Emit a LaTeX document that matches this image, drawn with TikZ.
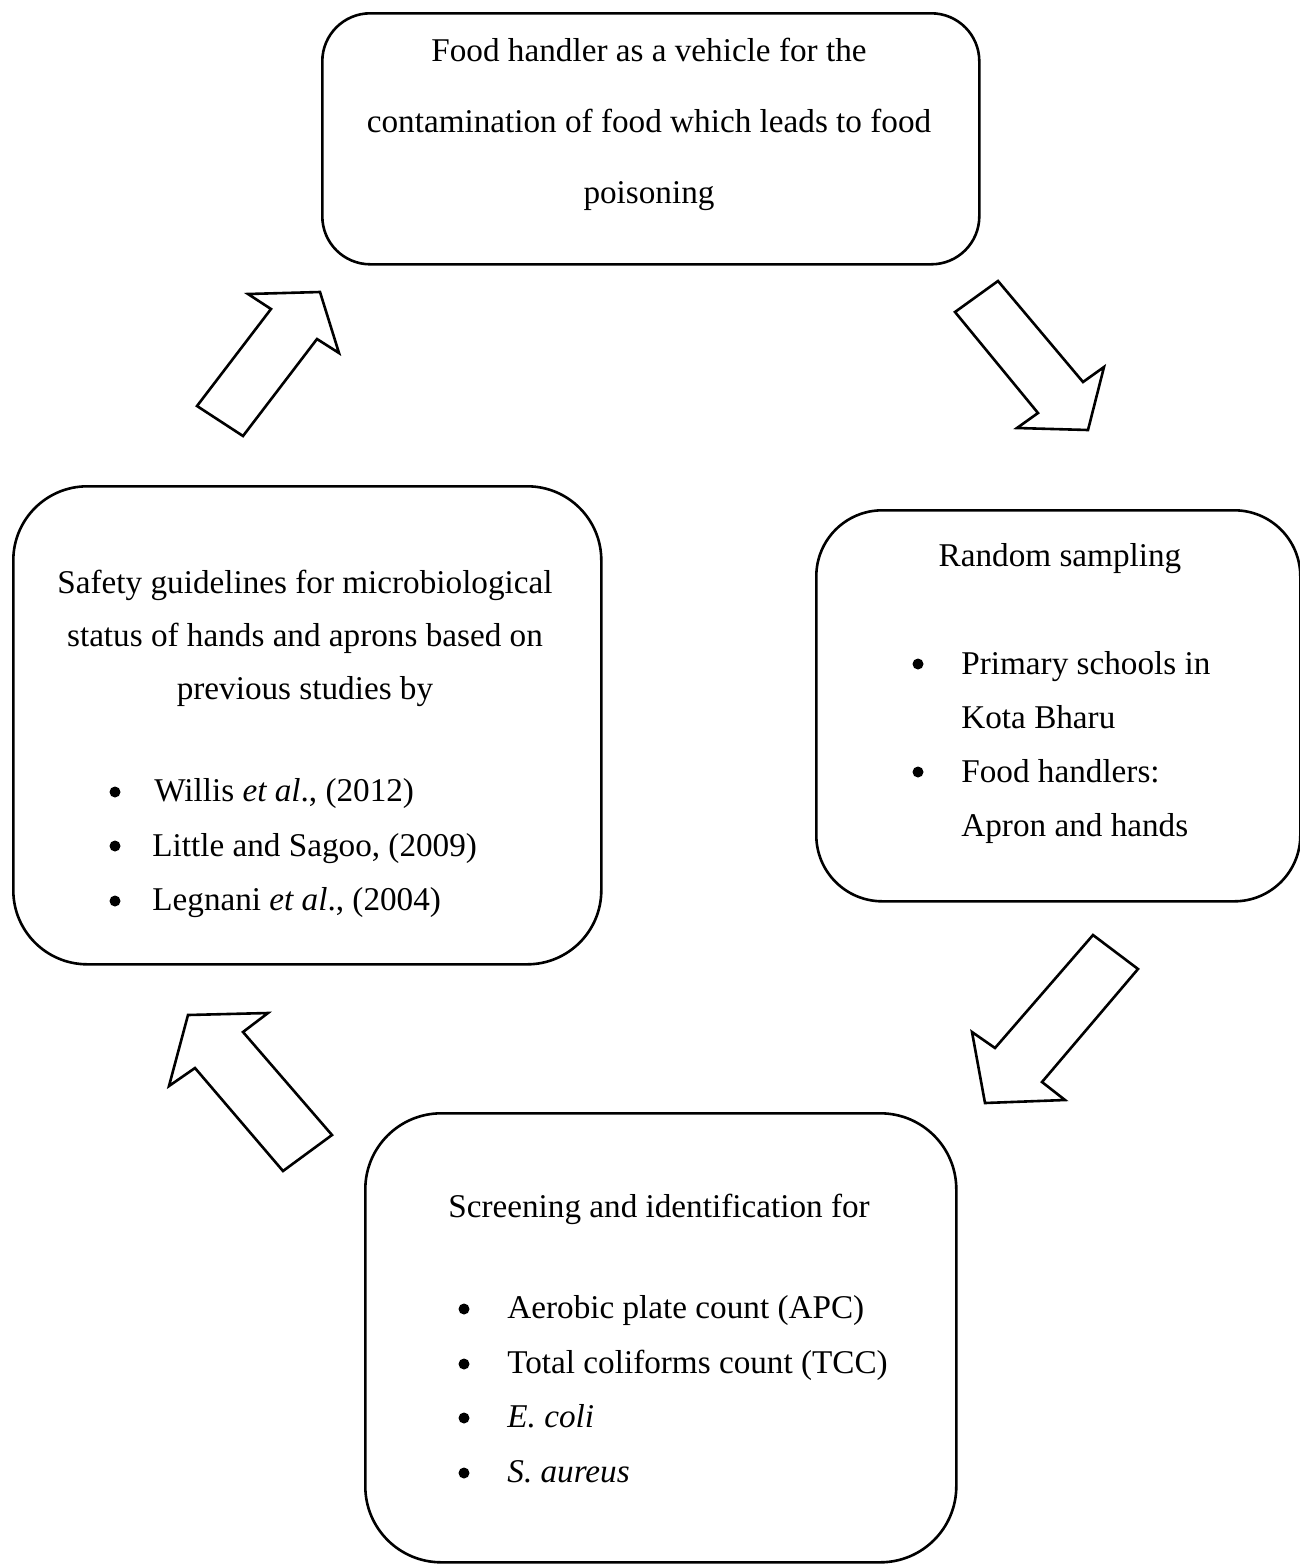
\documentclass[tikz,border=0pt]{standalone}
\usepackage{fontspec}
\setmainfont{Liberation Serif}
\begin{document}
\begin{tikzpicture}[x=0.5pt,y=-0.5pt,
  box/.style={draw=black, line width=1.3pt, fill=none, inner sep=0pt, anchor=north west},
  txt/.style={inner sep=0pt, font=\fontsize{16.6}{19}\selectfont},
  blockarrow/.style={draw=black, line width=1.3pt, line join=miter, fill=white},
  bul/.style={fill=black}]
\useasboundingbox (0,0) rectangle (1300,1564);

% boxes
\node[box, rounded corners=24pt, minimum width=328.5pt, minimum height=125.5pt] (topbox) at (321,12) {};
\node[box, rounded corners=33pt, minimum width=242pt, minimum height=195.5pt] (rightbox) at (815,509) {};
\node[box, rounded corners=37pt, minimum width=294pt, minimum height=239pt] (leftbox) at (12,485) {};
\node[box, rounded corners=38pt, minimum width=295.5pt, minimum height=224.5pt] (botbox) at (364,1112) {};

% top box text
\node[txt, anchor=base] (t1) at (649,61) {Food handler as a vehicle for the};
\node[txt, anchor=base] (t2) at (649,132) {contamination of food which leads to food};
\node[txt, anchor=base] (t3) at (649,203) {poisoning};

% right box text
\node[txt, anchor=base] (r0) at (1060,566) {Random sampling};
\fill[bul] (918,664) circle (5.5);
\node[txt, anchor=base west] (r1) at (961,674) {Primary schools in};
\node[txt, anchor=base west] (r2) at (961,728) {Kota Bharu};
\fill[bul] (918,772) circle (5.5);
\node[txt, anchor=base west] (r3) at (961,782) {Food handlers:};
\node[txt, anchor=base west] (r4) at (961,836) {Apron and hands};

% left box text
\node[txt, anchor=base] (l1) at (305,593) {Safety guidelines for microbiological};
\node[txt, anchor=base] (l2) at (305,646) {status of hands and aprons based on};
\node[txt, anchor=base] (l3) at (305,699) {previous studies by};
\fill[bul] (115,792) circle (5.5);
\node[txt, anchor=base west] (l4) at (154,801) {Willis \textit{et al}., (2012)};
\fill[bul] (115,846) circle (5.5);
\node[txt, anchor=base west] (l5) at (152,856) {Little and Sagoo, (2009)};
\fill[bul] (115,901) circle (5.5);
\node[txt, anchor=base west] (l6) at (152,910) {Legnani \textit{et al}., (2004)};

% bottom box text
\node[txt, anchor=base] (s0) at (659,1217) {Screening and identification for};
\fill[bul] (464,1309) circle (5.5);
\node[txt, anchor=base west] (s1) at (507,1318) {Aerobic plate count (APC)};
\fill[bul] (464,1364) circle (5.5);
\node[txt, anchor=base west] (s2) at (507,1373) {Total coliforms count (TCC)};
\fill[bul] (464,1418) circle (5.5);
\node[txt, anchor=base west] (s3) at (507,1427) {\textit{E. coli}};
\fill[bul] (464,1473) circle (5.5);
\node[txt, anchor=base west] (s4) at (507,1482) {\textit{S. aureus}};

% block arrows
\draw[blockarrow] (197,406) -- (271,309) -- (248,294) -- (320,292) -- (339,353) -- (317,339) -- (243,436) -- cycle;
\draw[blockarrow] (955,312) -- (998,281) -- (1083,382) -- (1104,367) -- (1088,430) -- (1017,428) -- (1038,413) -- cycle;
\draw[blockarrow] (1093,935) -- (1138,969) -- (1042,1082) -- (1065,1100) -- (985,1103) -- (972,1032) -- (995,1048) -- cycle;
\draw[blockarrow] (332,1135) -- (283,1171) -- (195,1068) -- (169,1086) -- (188,1015) -- (268,1013) -- (243,1032) -- cycle;
\end{tikzpicture}
\end{document}
